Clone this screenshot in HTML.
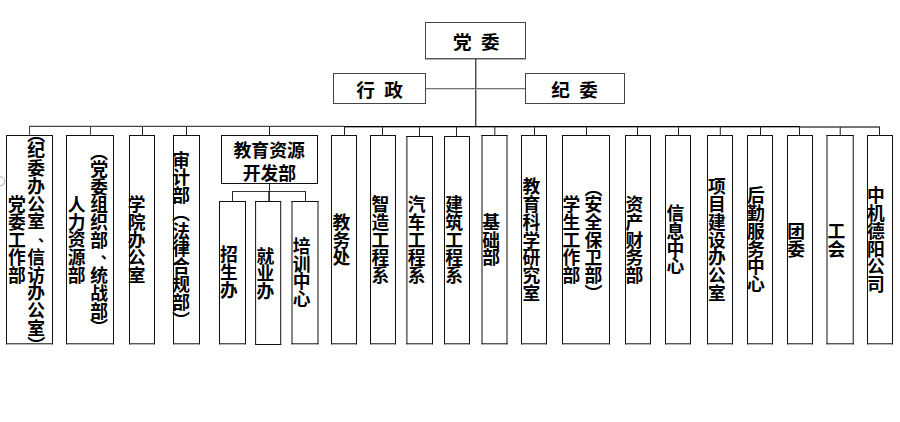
<!DOCTYPE html>
<html lang="zh-CN">
<head>
<meta charset="utf-8">
<title>组织机构图</title>
<style>
html,body{margin:0;padding:0;background:#fff;}
body{width:900px;height:422px;overflow:hidden;position:relative;font-family:"Liberation Sans","Noto Sans CJK SC",sans-serif;}
#chart{position:absolute;left:0;top:0;width:900px;height:422px;display:block;}
#labels text{font-family:"Liberation Sans","Noto Sans CJK SC",sans-serif;font-weight:bold;fill:#000;}
</style>
</head>
<body>
<svg id="chart" width="900" height="422" viewBox="0 0 900 422">
<rect width="900" height="422" fill="#fff"/>
<circle cx="0.3" cy="181.2" r="4.4" fill="#fff" stroke="#a6a6a6" stroke-width="1"/>
<g shape-rendering="crispEdges">
<rect x="426" y="88" width="99" height="1" fill="#383838"/>
<rect x="29" y="126" width="315" height="1" fill="#444"/>
<rect x="29" y="125" width="315" height="1" fill="#d4d4d4"/>
<rect x="344" y="126" width="456" height="1" fill="#000"/>
<rect x="344" y="127" width="456" height="1" fill="#aaa"/>
<rect x="800" y="126" width="80" height="1" fill="#7a7a7a"/>
<rect x="800" y="127" width="80" height="1" fill="#747474"/>
<rect x="29" y="127" width="1" height="8" fill="#444"/>
<rect x="90" y="127" width="1" height="8" fill="#444"/>
<rect x="142" y="127" width="1" height="8" fill="#222"/>
<rect x="186" y="127" width="1" height="8" fill="#222"/>
<rect x="269" y="127" width="1" height="8" fill="#222"/>
<rect x="344" y="127" width="1" height="8" fill="#222"/>
<rect x="382" y="127" width="1" height="8" fill="#222"/>
<rect x="419" y="127" width="1" height="9" fill="#222"/>
<rect x="534" y="127" width="1" height="8" fill="#222"/>
<rect x="586" y="127" width="1" height="8" fill="#222"/>
<rect x="637" y="127" width="1" height="8" fill="#222"/>
<rect x="678" y="127" width="1" height="8" fill="#222"/>
<rect x="760" y="127" width="1" height="8" fill="#222"/>
<rect x="799" y="127" width="1" height="8" fill="#222"/>
<rect x="879" y="127" width="1" height="8" fill="#222"/>
<rect x="269" y="183" width="1" height="19" fill="#2a2a2a"/>
<rect x="232" y="191" width="74" height="1" fill="#3a3a3a"/>
<rect x="232" y="191" width="1" height="11" fill="#222"/>
<rect x="305" y="191" width="1" height="11" fill="#222"/>
</g>
<g>
<rect x="425.00" y="22" width="101.00" height="1" fill="#454545"/>
<rect x="425.00" y="58" width="101.00" height="1" fill="#454545"/>
<rect x="425" y="22.00" width="1" height="37.00" fill="#454545"/>
<rect x="525" y="22.00" width="1" height="37.00" fill="#454545"/>
<rect x="425.00" y="58.50" width="101.00" height="1" fill="#666"/>
<rect x="333.00" y="73" width="93.00" height="1" fill="#454545"/>
<rect x="333.00" y="103" width="93.00" height="1" fill="#454545"/>
<rect x="333" y="73.00" width="1" height="31.00" fill="#454545"/>
<rect x="425" y="73.00" width="1" height="31.00" fill="#454545"/>
<rect x="525.00" y="73" width="100.00" height="1" fill="#454545"/>
<rect x="525.00" y="103" width="100.00" height="1" fill="#454545"/>
<rect x="525" y="73.00" width="1" height="31.00" fill="#454545"/>
<rect x="624" y="73.00" width="1" height="31.00" fill="#454545"/>
<rect x="475.30" y="59.00" width="1" height="68.00" fill="#000"/>
<rect x="426.00" y="88.50" width="99.00" height="1" fill="#b0b0b0"/>
<rect x="6.00" y="135" width="47.00" height="1" fill="#111"/>
<rect x="6.00" y="343.30" width="47.00" height="1" fill="#111"/>
<rect x="6" y="135.00" width="1" height="209.30" fill="#111"/>
<rect x="52" y="135.00" width="1" height="209.30" fill="#111"/>
<rect x="66.00" y="135" width="48.00" height="1" fill="#111"/>
<rect x="66.00" y="343.30" width="48.00" height="1" fill="#111"/>
<rect x="66" y="135.00" width="1" height="209.30" fill="#111"/>
<rect x="113" y="135.00" width="1" height="209.30" fill="#111"/>
<rect x="129.00" y="135" width="26.00" height="1" fill="#111"/>
<rect x="129.00" y="343.30" width="26.00" height="1" fill="#111"/>
<rect x="129" y="135.00" width="1" height="209.30" fill="#111"/>
<rect x="154" y="135.00" width="1" height="209.30" fill="#111"/>
<rect x="173.00" y="135" width="27.00" height="1" fill="#111"/>
<rect x="173.00" y="343.30" width="27.00" height="1" fill="#111"/>
<rect x="173" y="135.00" width="1" height="209.30" fill="#111"/>
<rect x="199" y="135.00" width="1" height="209.30" fill="#111"/>
<rect x="221.00" y="135" width="97.00" height="1" fill="#111"/>
<rect x="221.00" y="183" width="97.00" height="1" fill="#111"/>
<rect x="221" y="135.00" width="1" height="49.00" fill="#111"/>
<rect x="317" y="135.00" width="1" height="49.00" fill="#111"/>
<rect x="331.00" y="135" width="26.00" height="1" fill="#111"/>
<rect x="331.00" y="343.30" width="26.00" height="1" fill="#111"/>
<rect x="331" y="135.00" width="1" height="209.30" fill="#111"/>
<rect x="356" y="135.00" width="1" height="209.30" fill="#111"/>
<rect x="370.00" y="135" width="26.00" height="1" fill="#111"/>
<rect x="370.00" y="343.30" width="26.00" height="1" fill="#111"/>
<rect x="370" y="135.00" width="1" height="209.30" fill="#111"/>
<rect x="395" y="135.00" width="1" height="209.30" fill="#111"/>
<rect x="406.40" y="136" width="26.60" height="1" fill="#111"/>
<rect x="406.40" y="343.30" width="26.60" height="1" fill="#111"/>
<rect x="406.40" y="136.00" width="1" height="208.30" fill="#111"/>
<rect x="432" y="136.00" width="1" height="208.30" fill="#111"/>
<rect x="444.00" y="136" width="26.00" height="1" fill="#111"/>
<rect x="444.00" y="343.30" width="26.00" height="1" fill="#111"/>
<rect x="444" y="136.00" width="1" height="208.30" fill="#111"/>
<rect x="469" y="136.00" width="1" height="208.30" fill="#111"/>
<rect x="456.00" y="127.00" width="1" height="9.00" fill="#222"/>
<rect x="481.50" y="135" width="26.00" height="1" fill="#111"/>
<rect x="481.50" y="343.30" width="26.00" height="1" fill="#111"/>
<rect x="481.50" y="135.00" width="1" height="209.30" fill="#111"/>
<rect x="506.50" y="135.00" width="1" height="209.30" fill="#111"/>
<rect x="494.30" y="127.00" width="1" height="8.00" fill="#222"/>
<rect x="521.00" y="135" width="26.00" height="1" fill="#111"/>
<rect x="521.00" y="343.30" width="26.00" height="1" fill="#111"/>
<rect x="521" y="135.00" width="1" height="209.30" fill="#111"/>
<rect x="546" y="135.00" width="1" height="209.30" fill="#111"/>
<rect x="562.00" y="135" width="48.00" height="1" fill="#111"/>
<rect x="562.00" y="343.30" width="48.00" height="1" fill="#111"/>
<rect x="562" y="135.00" width="1" height="209.30" fill="#111"/>
<rect x="609" y="135.00" width="1" height="209.30" fill="#111"/>
<rect x="625.00" y="135" width="26.00" height="1" fill="#111"/>
<rect x="625.00" y="343.30" width="26.00" height="1" fill="#111"/>
<rect x="625" y="135.00" width="1" height="209.30" fill="#111"/>
<rect x="650" y="135.00" width="1" height="209.30" fill="#111"/>
<rect x="665.00" y="135" width="26.00" height="1" fill="#111"/>
<rect x="665.00" y="343.30" width="26.00" height="1" fill="#111"/>
<rect x="665" y="135.00" width="1" height="209.30" fill="#111"/>
<rect x="690" y="135.00" width="1" height="209.30" fill="#111"/>
<rect x="707.00" y="135" width="26.00" height="1" fill="#111"/>
<rect x="707.00" y="343.30" width="26.00" height="1" fill="#111"/>
<rect x="707" y="135.00" width="1" height="209.30" fill="#111"/>
<rect x="732" y="135.00" width="1" height="209.30" fill="#111"/>
<rect x="719.80" y="127.00" width="1" height="8.00" fill="#222"/>
<rect x="747.00" y="135" width="26.00" height="1" fill="#111"/>
<rect x="747.00" y="343.30" width="26.00" height="1" fill="#111"/>
<rect x="747" y="135.00" width="1" height="209.30" fill="#111"/>
<rect x="772" y="135.00" width="1" height="209.30" fill="#111"/>
<rect x="787.00" y="135" width="26.00" height="1" fill="#111"/>
<rect x="787.00" y="343.30" width="26.00" height="1" fill="#111"/>
<rect x="787" y="135.00" width="1" height="209.30" fill="#111"/>
<rect x="812" y="135.00" width="1" height="209.30" fill="#111"/>
<rect x="826.50" y="135" width="27.20" height="1" fill="#111"/>
<rect x="826.50" y="343.30" width="27.20" height="1" fill="#111"/>
<rect x="826.50" y="135.00" width="1" height="209.30" fill="#111"/>
<rect x="852.70" y="135.00" width="1" height="209.30" fill="#111"/>
<rect x="839.70" y="127.00" width="1" height="8.00" fill="#222"/>
<rect x="867.00" y="135" width="26.00" height="1" fill="#111"/>
<rect x="867.00" y="343.30" width="26.00" height="1" fill="#111"/>
<rect x="867" y="135.00" width="1" height="209.30" fill="#111"/>
<rect x="892" y="135.00" width="1" height="209.30" fill="#111"/>
<rect x="219.00" y="201" width="27.00" height="1" fill="#111"/>
<rect x="219.00" y="343.30" width="27.00" height="1" fill="#111"/>
<rect x="219" y="201.00" width="1" height="143.30" fill="#111"/>
<rect x="245" y="201.00" width="1" height="143.30" fill="#111"/>
<rect x="255.10" y="201" width="26.10" height="1" fill="#111"/>
<rect x="255.10" y="344.00" width="26.10" height="1" fill="#111"/>
<rect x="255.10" y="201.00" width="1" height="144.00" fill="#111"/>
<rect x="280.20" y="201.00" width="1" height="144.00" fill="#111"/>
<rect x="268.30" y="191.00" width="1" height="10.00" fill="#222"/>
<rect x="291.50" y="201" width="27.00" height="1" fill="#111"/>
<rect x="291.50" y="343.30" width="27.00" height="1" fill="#111"/>
<rect x="291.50" y="201.00" width="1" height="143.30" fill="#111"/>
<rect x="317.50" y="201.00" width="1" height="143.30" fill="#111"/>
</g>
<g id="labels" font-size="17.75" text-anchor="middle">
<text font-size="18" x="36.2" y="141.1">︵</text>
<text x="36.2 36.2 36.2 36.2 36.2 36.2 36.2 36.2 36.2 36.2" y="157.3 175.0 192.8 210.5 228.3 263.8 281.5 299.3 317.0 334.8">纪委办公室信访办公室</text>
<text font-size="14.9" text-anchor="start" x="37.95" y="240.8">、</text>
<text font-size="18" x="36.2" y="351.6">︶</text>
<text x="16.8 16.8 16.8 16.8 16.8" y="211.1 228.9 246.6 264.4 282.1">党委工作部</text>
<text font-size="18" x="99.1" y="159.1">︵</text>
<text x="99.1 99.1 99.1 99.1 99.1 99.1 99.1 99.1" y="175.8 193.5 211.3 229.0 246.8 282.3 300.0 317.8">党委组织部统战部</text>
<text font-size="14.9" text-anchor="start" x="100.75" y="257.7">、</text>
<text font-size="18" x="99.1" y="334.3">︶</text>
<text x="76.7 76.7 76.7 76.7 76.7" y="210.7 228.5 246.2 264.0 281.7">人力资源部</text>
<text x="136.6 136.6 136.6 136.6 136.6" y="211.1 228.9 246.6 264.4 282.1">学院办公室</text>
<text x="181.1 181.1 181.1" y="166.5 184.2 202.0">审计部</text>
<text font-size="18" x="181.1" y="220.2">︵</text>
<text x="181.1 181.1 181.1 181.1 181.1" y="237.6 255.4 273.1 290.9 308.6">法律合规部</text>
<text font-size="18" x="181.1" y="326.7">︶</text>
<text x="228.8 228.8 228.8" y="261.3 279.0 296.8">招生办</text>
<text x="265.3 265.3 265.3" y="262.6 280.3 298.1">就业办</text>
<text x="301.7 301.7 301.7 301.7" y="252.9 270.6 288.4 306.1">培训中心</text>
<text x="341.4 341.4 341.4" y="228.9 246.6 264.4">教务处</text>
<text x="380.3 380.3 380.3 380.3 380.3" y="211.1 228.9 246.6 264.4 282.1">智造工程系</text>
<text x="416.6 416.6 416.6 416.6 416.6" y="211.1 228.9 246.6 264.4 282.1">汽车工程系</text>
<text x="454.1 454.1 454.1 454.1 454.1" y="211.1 228.9 246.6 264.4 282.1">建筑工程系</text>
<text x="491.1 491.1 491.1" y="228.9 246.6 264.4">基础部</text>
<text x="531.3 531.3 531.3 531.3 531.3 531.3 531.3" y="193.4 211.1 228.9 246.6 264.4 282.1 299.9">教育科学研究室</text>
<text x="571.5 571.5 571.5 571.5 571.5" y="211.1 228.9 246.6 264.4 282.1">学生工作部</text>
<text font-size="18" x="593.5" y="194.5">︵</text>
<text x="593.4 593.4 593.4 593.4 593.4" y="211.1 228.9 246.6 264.4 282.1">安全保卫部</text>
<text font-size="18" x="593.5" y="299.6">︶</text>
<text x="634.5 634.5 634.5 634.5 634.5" y="211.1 228.9 246.6 264.4 282.1">资产财务部</text>
<text x="675.4 675.4 675.4 675.4" y="220.0 237.7 255.5 273.2">信息中心</text>
<text x="716.9 716.9 716.9 716.9 716.9 716.9 716.9" y="193.4 211.1 228.9 246.6 264.4 282.1 299.9">项目建设办公室</text>
<text x="756.0 756.0 756.0 756.0 756.0 756.0" y="202.2 220.0 237.7 255.5 273.2 291.0">后勤服务中心</text>
<text x="796.2 796.2" y="237.7 255.5">团委</text>
<text x="836.5 836.5" y="237.7 255.5">工会</text>
<text x="875.9 875.9 875.9 875.9 875.9 875.9" y="202.2 220.0 237.7 255.5 273.2 291.0">中机德阳公司</text>
<text font-size="17.85" text-anchor="start" x="233.5" y="156.9">教育资源</text>
<text font-size="17.85" text-anchor="start" x="242.7" y="179.5">开发部</text>
<text font-size="18.6" text-anchor="start" x="453.1 481.0" y="48.75">党委</text>
<text font-size="18.6" text-anchor="start" x="356.3 384.2" y="97.15">行政</text>
<text font-size="18.6" text-anchor="start" x="551.3 579.2" y="96.55">纪委</text>
</g>
</svg>
</body>
</html>
